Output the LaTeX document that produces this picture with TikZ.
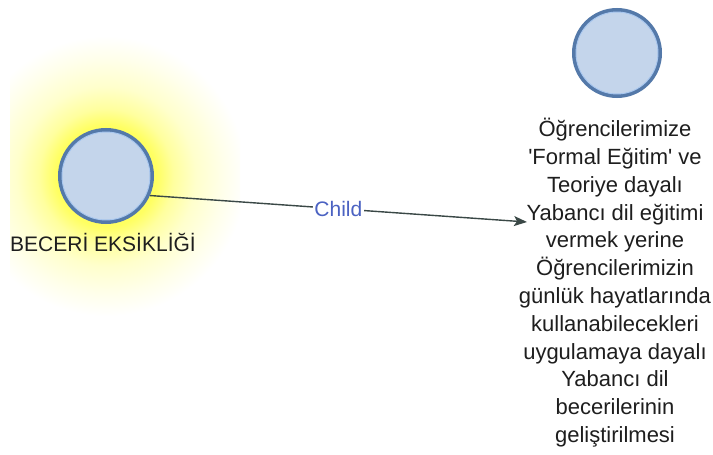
\documentclass[tikz,border=0pt]{standalone}
\usepackage{fontspec}
\setmainfont{Liberation Sans}
\usetikzlibrary{arrows.meta}

\definecolor{nodefill}{HTML}{C4D5EB}
\definecolor{noderim}{HTML}{5479A9}
\definecolor{rimlight}{HTML}{A9C8F0}
\definecolor{edgecol}{HTML}{3A4846}
\definecolor{edgetext}{HTML}{4B62C2}
\definecolor{textcol}{HTML}{1E1E1E}

% soft yellow halo for the highlighted node (visible radius = 25bp)
\pgfdeclareradialshading{halo}{\pgfpoint{0bp}{0bp}}{%
  color(0bp)=(yellow!65!white);
  color(9bp)=(yellow!62!white);
  color(12bp)=(yellow!38!white);
  color(16bp)=(yellow!20!white);
  color(21bp)=(yellow!8!white);
  color(25bp)=(white);
  color(50bp)=(white)}

\tikzset{
  entity/.style={circle, fill=nodefill, draw=noderim, line width=4pt, inner sep=0pt},
  entityrim/.style={circle, draw=rimlight, line width=0.9pt, inner sep=0pt},
  caption/.style={text=textcol, font=\fontsize{21}{26}\selectfont, inner sep=0pt},
  longcaption/.style={text=textcol, font=\fontsize{22}{27.8}\selectfont, align=center, inner sep=0pt},
  link/.style={draw=edgecol, line width=1.4pt, -{Stealth[length=13pt,width=10pt,inset=3pt]}},
  linklabel/.style={text=edgetext, font=\fontsize{21}{24}\selectfont, fill=white, inner sep=1.5pt}
}

\begin{document}
\begin{tikzpicture}[x=1pt,y=-1pt]
  \useasboundingbox[fill=white] (0,0) rectangle (713,455);

  % halo behind the left node
  \begin{scope}
    \clip (10,33) rectangle (240,318);
    \shade[shading=halo] (106,176) circle (140);
  \end{scope}

  % left node
  \node[entity, minimum size=92pt] (a) at (106,176) {};
  \node[entityrim, minimum size=88pt] (arim) at (a.center) {};
  \node[caption, anchor=base] (al) at (103,251) {BECERİ EKSİKLİĞİ};

  % right node
  \node[entity, minimum size=86pt] (b) at (617,53) {};
  \node[entityrim, minimum size=82pt] (brim) at (b.center) {};
  \node[longcaption, anchor=north] (bl) at (615,118) {%
    Öğrencilerimize\\
    \textquotesingle Formal Eğitim\textquotesingle{} ve\\
    Teoriye dayalı\\
    Yabancı dil eğitimi\\
    vermek yerine\\
    Öğrencilerimizin\\
    günlük hayatlarında\\
    kullanabilecekleri\\
    uygulamaya dayalı\\
    Yabancı dil\\
    becerilerinin\\
    geliştirilmesi};

  % connector
  \coordinate (tip) at (527,222);
  \draw[link] (a.-24) -- node[linklabel] {Child} (tip);
\end{tikzpicture}
\end{document}
